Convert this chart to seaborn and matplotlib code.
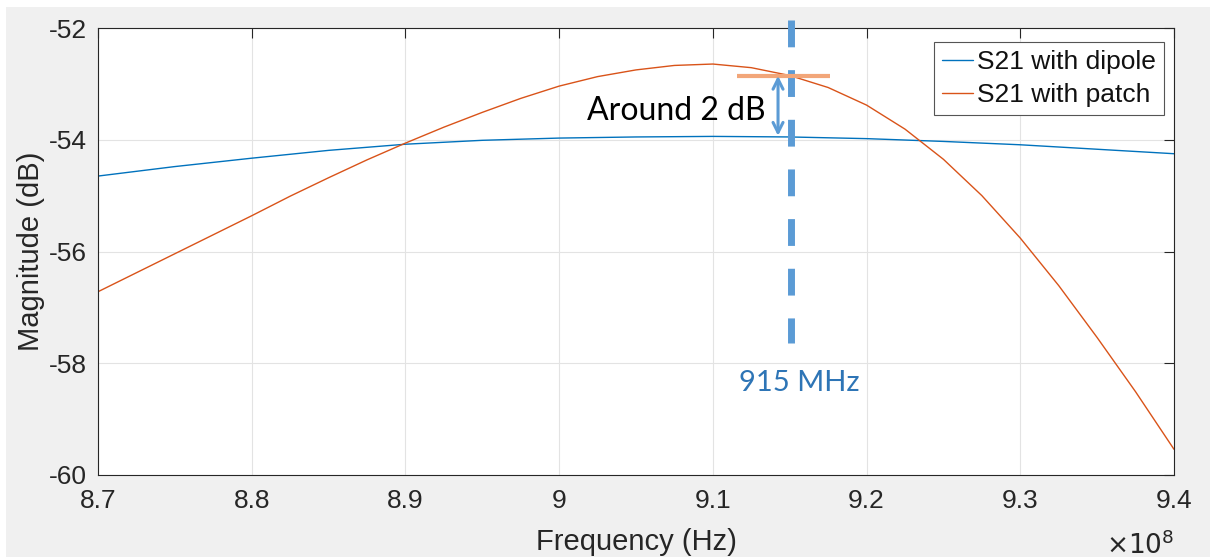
import matplotlib
matplotlib.use("Agg")
import matplotlib.pyplot as plt
import matplotlib.ticker as mticker
from matplotlib.patches import Rectangle
import seaborn as sns
import pandas as pd

# ---------------- data ----------------
freq_dipole = [8.70e8, 8.75e8, 8.80e8, 8.85e8, 8.90e8, 8.95e8, 9.00e8, 9.05e8,
               9.10e8, 9.15e8, 9.20e8, 9.25e8, 9.30e8, 9.35e8, 9.40e8]
s21_dipole = [-54.65, -54.48, -54.33, -54.19, -54.08, -54.01, -53.97, -53.95,
              -53.94, -53.95, -53.98, -54.03, -54.09, -54.17, -54.25]

freq_patch = [8.700e8, 8.725e8, 8.750e8, 8.775e8, 8.800e8, 8.825e8, 8.850e8, 8.875e8,
              8.900e8, 8.925e8, 8.950e8, 8.975e8, 9.000e8, 9.025e8, 9.050e8, 9.075e8,
              9.100e8, 9.125e8, 9.150e8, 9.175e8, 9.200e8, 9.225e8, 9.250e8, 9.275e8,
              9.300e8, 9.325e8, 9.350e8, 9.375e8, 9.400e8]
s21_patch = [-56.72, -56.38, -56.04, -55.70, -55.36, -55.01, -54.68, -54.36,
             -54.06, -53.775, -53.51, -53.26, -53.04, -52.87, -52.75, -52.67,
             -52.645, -52.71, -52.85, -53.065, -53.38, -53.81, -54.35, -55.00,
             -55.76, -56.61, -57.54, -58.51, -59.54]

series_names = ["S21 with dipole", "S21 with patch"]
x_ticks = [8.7e8, 8.8e8, 8.9e8, 9.0e8, 9.1e8, 9.2e8, 9.3e8, 9.4e8]
y_ticks = [-60, -58, -56, -54, -52]

marker_freq = 9.151e8            # 915 MHz marker
marker_span = [-51.85, -57.63]   # vertical extent of dashed marker
patch_level = -52.855            # level of patch curve at 915 MHz
patch_level_span = [9.1154e8, 9.1765e8]
dipole_level = -53.93
arrow_freq = 9.1424e8
label_gap = "Around 2 dB"
label_marker = "915 MHz"

# ---------------- plot ----------------
sns.set_style("white")
plt.rcParams["font.family"] = ["Liberation Sans", "DejaVu Sans"]

df = pd.concat([
    pd.DataFrame({"Frequency": freq_dipole, "S21": s21_dipole, "Series": series_names[0]}),
    pd.DataFrame({"Frequency": freq_patch, "S21": s21_patch, "Series": series_names[1]}),
])

fig = plt.figure(figsize=(12.1, 5.57), dpi=100, facecolor="white")
fig.patches.append(Rectangle((6 / 1210, 0), 1, 1 - 7 / 557, transform=fig.transFigure,
                             facecolor="#f0f0f0", edgecolor="none", zorder=-10))
ax = fig.add_axes([98 / 1210, 1 - 475 / 557, (1174 - 98) / 1210, (475 - 28) / 557])
ax.set_facecolor("white")

palette = {series_names[0]: "#0072BD", series_names[1]: "#D95319"}
sns.lineplot(data=df, x="Frequency", y="S21", hue="Series", palette=palette,
             linewidth=1.0, ax=ax, legend=True, sort=True)

ax.set_xlim(8.7e8, 9.4e8)
ax.set_ylim(-60, -52)
ax.set_xticks(x_ticks)
ax.set_yticks(y_ticks)
ax.xaxis.set_major_formatter(mticker.FuncFormatter(lambda v, p: ("%g" % (v / 1e8))))
ax.yaxis.set_major_formatter(mticker.FuncFormatter(lambda v, p: ("%g" % v)))
ax.text(1.0, -0.125, r"$\times10^{8}$", transform=ax.transAxes, ha="right", va="top",
        fontsize=19, color="#262626")

ax.grid(True, color="#e3e3e3", linewidth=0.8)
ax.set_axisbelow(True)
for s in ax.spines.values():
    s.set_color("#262626")
    s.set_linewidth(0.8)
ax.tick_params(direction="in", length=7, width=0.8, colors="#262626",
               labelsize=19, top=True, right=True, pad=8)
ax.tick_params(axis="x", pad=10)

ax.set_xlabel("Frequency (Hz)", fontsize=21, color="#262626", labelpad=11)
ax.set_ylabel("Magnitude (dB)", fontsize=21, color="#262626", labelpad=3)

# legend
handles, labels = ax.get_legend_handles_labels()
leg = ax.legend(handles, labels, loc="upper right",
                bbox_to_anchor=(1 - 10 / 1076, 1 - 14 / 447), borderaxespad=0,
                fontsize=19, frameon=True, fancybox=False, framealpha=1,
                edgecolor="#555555", handlelength=1.2, handletextpad=0.15,
                borderpad=0.3, labelspacing=0.35)
leg.get_frame().set_linewidth(0.8)
for t in leg.get_texts():
    t.set_color("#111111")

# annotations
ax.plot([marker_freq, marker_freq], marker_span, color="#5B9BD5", linewidth=5.0,
        dashes=(3.86, 3.29), dash_capstyle="butt", clip_on=False, zorder=5)
ax.plot(patch_level_span, [patch_level, patch_level], color="#F2A679", linewidth=3.0,
        solid_capstyle="butt", zorder=6)
ax.annotate("", xy=(arrow_freq, dipole_level), xytext=(arrow_freq, patch_level),
            arrowprops=dict(arrowstyle="<->", color="#5B9BD5", lw=2.2,
                            mutation_scale=18, shrinkA=0, shrinkB=0), zorder=6)
ax.text(9.018e8, -53.64, label_gap, fontsize=23, family=["Lato", "DejaVu Sans"],
        color="black", ha="left", va="baseline", zorder=7)
ax.text(9.156e8, -58.50, label_marker, fontsize=21, family=["Lato", "DejaVu Sans"],
        color="#2E75B6", ha="center", va="baseline", zorder=7)

fig.savefig("out.png", dpi=100, facecolor=fig.get_facecolor())
